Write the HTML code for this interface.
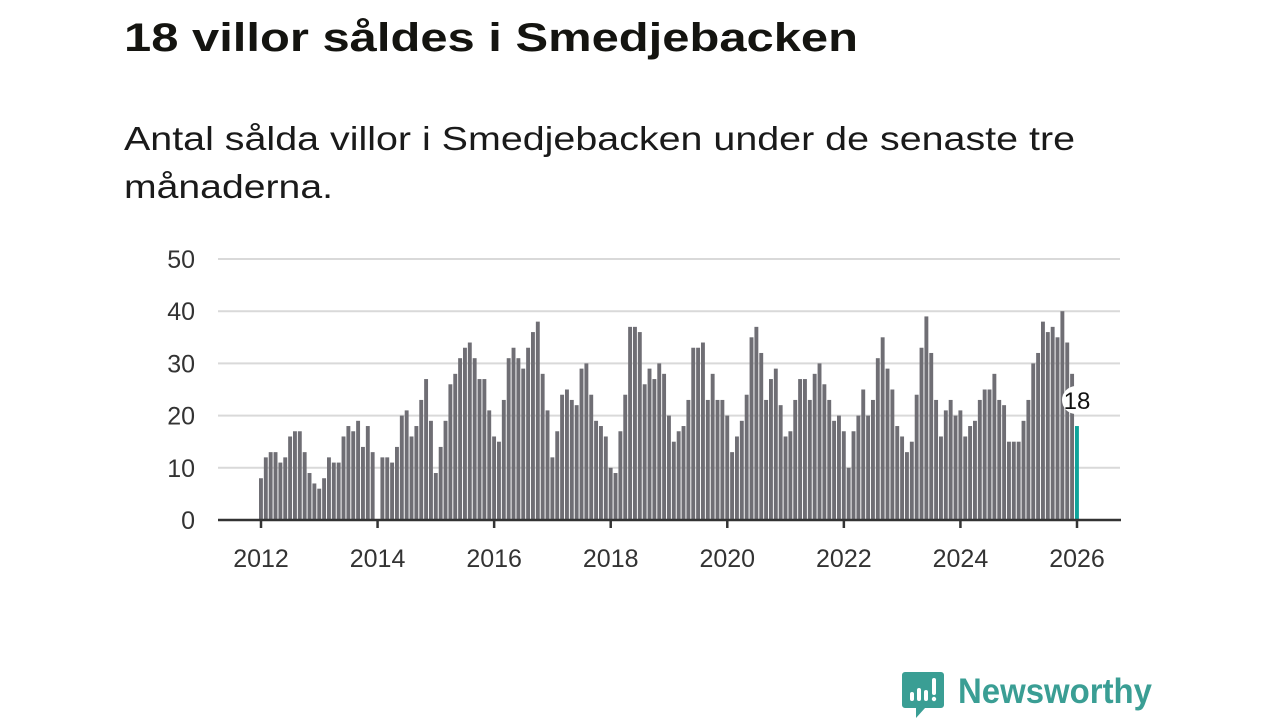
<!DOCTYPE html>
<html><head><meta charset="utf-8"><style>
body{margin:0;background:#fff;width:1280px;height:720px;overflow:hidden}
svg{display:block;font-family:"Liberation Sans","DejaVu Sans",sans-serif}
</style></head><body>
<svg id="chart" width="1280" height="720">
<text x="124" y="51" font-size="40" font-weight="bold" fill="#141410" textLength="734" lengthAdjust="spacingAndGlyphs">18 villor såldes i Smedjebacken</text>
<text x="124" y="150" font-size="33" fill="#1a1a1a" textLength="951" lengthAdjust="spacingAndGlyphs">Antal sålda villor i Smedjebacken under de senaste tre</text>
<text x="124" y="198" font-size="33" fill="#1a1a1a" textLength="209" lengthAdjust="spacingAndGlyphs">månaderna.</text>
<g id="grid"></g><g id="bars"></g><g id="axis"></g>
<g>
<path d="M905 672 h36 a3 3 0 0 1 3 3 v30 a3 3 0 0 1 -3 3 h-16 l-9 10 v-10 h-11 a3 3 0 0 1 -3 -3 v-30 a3 3 0 0 1 3 -3z" fill="#3a9e94"/>
<rect x="910" y="692" width="4" height="9" rx="2" fill="#fff"/>
<rect x="917" y="688" width="4" height="13" rx="2" fill="#fff"/>
<rect x="924" y="690" width="4" height="11" rx="2" fill="#fff"/>
<rect x="932" y="678" width="4" height="17" rx="2" fill="#fff"/>
<circle cx="934" cy="699" r="2.2" fill="#fff"/>
<text x="958" y="703" font-size="35" font-weight="bold" fill="#3a9e94" textLength="194" lengthAdjust="spacingAndGlyphs">Newsworthy</text>
</g>
</svg>
<script>
const years=[2012,2013,2014,2015,2016,2017,2018,2019,2020,2021,2022,2023,2024,2025,2026];
const values=[
8,12,13,13,11,12,16,17,17,13,9,7,
6,8,12,11,11,16,18,17,19,14,18,13,
0,12,12,11,14,20,21,16,18,23,27,19,
9,14,19,26,28,31,33,34,31,27,27,21,
16,15,23,31,33,31,29,33,36,38,28,21,
12,17,24,25,23,22,29,30,24,19,18,16,
10,9,17,24,37,37,36,26,29,27,30,28,
20,15,17,18,23,33,33,34,23,28,23,23,
20,13,16,19,24,35,37,32,23,27,29,22,
16,17,23,27,27,23,28,30,26,23,19,20,
17,10,17,20,25,20,23,31,35,29,25,18,
16,13,15,24,33,39,32,23,16,21,23,20,
21,16,18,19,23,25,25,28,23,22,15,15,
15,19,23,30,32,38,36,37,35,40,34,28,
18];
const yTicks=[0,10,20,30,40,50];
const xTickLabels=[2012,2014,2016,2018,2020,2022,2024,2026];
const NS="http://www.w3.org/2000/svg";
const x0=261,pxMonth=816/168,y0=520,pxUnit=261/50;
const xs=i=>x0+i*pxMonth, ys=v=>y0-v*pxUnit;
function mk(t,a,p){const e=document.createElementNS(NS,t);for(const k in a)e.setAttribute(k,a[k]);p.appendChild(e);return e;}
const grid=document.getElementById('grid'),bars=document.getElementById('bars'),axis=document.getElementById('axis');
yTicks.forEach(v=>{
 const l=mk('line',{x1:218,x2:1120,y1:ys(v),y2:ys(v),stroke:'#d9d9d9','stroke-width':2},grid);
 
 
 const t=mk('text',{x:195,y:ys(v)+9,'font-size':25,fill:'#333','text-anchor':'end'},grid);
 t.textContent=v;
 
 
});
values.forEach((v,i)=>{
 const last=i===values.length-1;
 const r=mk('rect',{x:xs(i)-2,y:ys(v),width:3.9,height:v*pxUnit,fill:last?'#0ea39a':'#6f6e74'},bars);
 
 
});
const li=values.length-1;
const bg=mk('rect',{x:xs(li)-15,y:ys(values[li])-40,width:30,height:28,rx:14,fill:'#fff'},bars);


const lab=mk('text',{x:xs(li),y:ys(values[li])-17,'font-size':24,fill:'#111','text-anchor':'middle'},bars);
lab.textContent=values[li];


const ax=mk('line',{x1:218,x2:1121,y1:520,y2:520,stroke:'#333','stroke-width':2.5},axis);


xTickLabels.forEach(yr=>{
 const x=xs((yr-years[0])*12);
 const tk=mk('line',{x1:x,x2:x,y1:520,y2:528,stroke:'#333','stroke-width':2.5},axis);
 
 
 const t=mk('text',{x:x,y:567,'font-size':25,fill:'#333','text-anchor':'middle'},axis);
 t.textContent=yr;
 
 
});
</script>
</body></html>
